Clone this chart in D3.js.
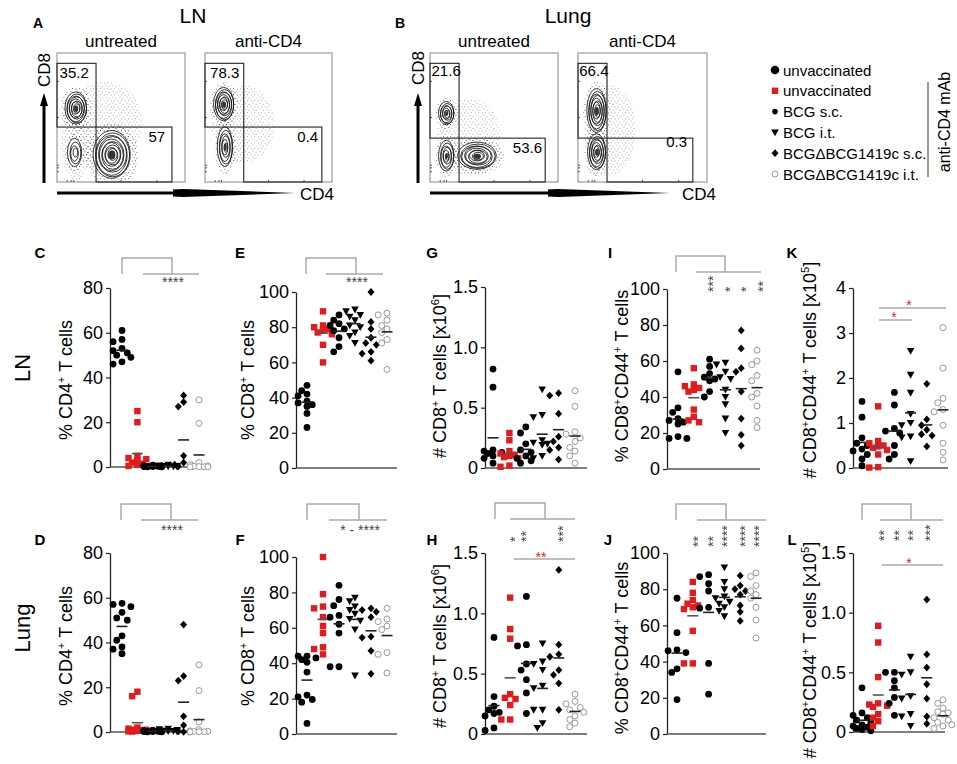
<!DOCTYPE html>
<html><head><meta charset="utf-8">
<script src="https://cdn.jsdelivr.net/npm/d3@7"></script>
<style>
body{margin:0;background:#fff}
text{font-family:"Liberation Sans",Arial,Helvetica,sans-serif}
</style>
</head><body>
<svg id="fig" width="957" height="764"></svg>
<script>
// ---------------- DATA ----------------
const groupNames = ["unvaccinated","unvaccinated anti-CD4","BCG s.c.","BCG i.t.","BCGΔBCG1419c s.c.","BCGΔBCG1419c i.t."];
const legendLabels = ["unvaccinated","unvaccinated","BCG s.c.","BCG i.t.","BCGΔBCG1419c s.c.","BCGΔBCG1419c i.t."];
const legendShapes = ["bigcircle","square","smallcircle","triangle","diamond","open"];
const groupShapes = ["circle","square","circle","triangle","diamond","open"];

// LN
const lnCD4 = [
  [61,57,56,53,52,51,50,49,47,46],
  [25,20,5,4,3.5,3,2,1.5,1,0.5,0.3],
  [0.8,0.6,0.5,0.4,0.3,0.2,0.2,0.1,0.1],
  [1,0.7,0.5,0.4,0.3,0.2,0.2,0.1],
  [32,29,27,5,2,1,0.5,0.3],
  [30,19.5,2,1,0.5,0.3,0.2,0.1,0.1,0.1]
];
const lnCD8 = [
  [47,44,42,41,38,37,36,35,31,23],
  [89,81,80,79,78,77,76,70,60],
  [87,84,82,81,79,78,74,69,66],
  [90,89,87,86,84,81,80,77,75,71],
  [100,83,79,74,71,70,66,65,61],
  [88,87,84,81,79,77,73,71,56]
];
const lnCD8count = [
  [0.82,0.67,0.15,0.14,0.13,0.12,0.1,0.08,0.04],
  [0.29,0.23,0.14,0.12,0.11,0.1,0.09,0.08,0.02,0.01],
  [0.34,0.29,0.2,0.15,0.13,0.1,0.08,0.06,0.04],
  [0.65,0.44,0.42,0.23,0.21,0.2,0.19,0.1,0.08],
  [0.62,0.6,0.45,0.26,0.22,0.17,0.15,0.07],
  [0.64,0.51,0.3,0.28,0.25,0.22,0.17,0.14,0.1,0.04]
];
const lnCD8CD44 = [
  [54,34,31.5,28,27,26,25,18,17,17],
  [56,47,46,45,44,43,33,29,27,26],
  [61,57,53,51,50,49,43,40],
  [59,58,54,51,50,44,40,36,28,20],
  [77,67,56,54,43,28,19,13],
  [66,60,58,52,49,42,40,35,27,23]
];
const lnCD8CD44count = [
  [1.48,1.13,0.67,0.55,0.5,0.42,0.38,0.3,0.2,0.05],
  [1.37,0.6,0.55,0.5,0.48,0.45,0.4,0.3,0.02,0.01],
  [1.68,1.4,0.88,0.82,0.78,0.5,0.3,0.2],
  [2.6,2.07,1.67,1.2,1.0,0.95,0.7,0.68,0.15],
  [1.87,1.08,0.95,0.85,0.75,0.72,0.48],
  [3.12,2.22,1.55,1.45,1.3,1.25,0.95,0.55,0.35,0.18]
];
// Lung
const lungCD4 = [
  [57.5,57,56,53.5,51,50,43,41,38,37,35],
  [18,16,2,1.5,1,1,0.8,0.5,0.3,0.2],
  [0.8,0.6,0.5,0.3,0.3,0.2,0.2,0.1,0.1],
  [1.5,1.2,0.9,0.6,0.5,0.4,0.3,0.2],
  [48,25,23,7,3,0.3,0.2,0.1],
  [30,18.5,4.5,1,0.5,0.3,0.2,0.1,0.1,0.1]
];
const lungCD8 = [
  [44,44,43,42,40.5,35,22,21,19.5,18,6],
  [100,79,72,71,66,61,57,49,48,45],
  [84,76,72.5,67,66,62,57,38,38],
  [77,75,72,70,68,65,64,59,33],
  [71,70,69,66,55,54.5,47,34],
  [71,65,63.5,61,59,46,45,34.5]
];
const lungCD8count = [
  [0.8,0.31,0.23,0.2,0.18,0.17,0.15,0.05,0.03],
  [1.13,0.87,0.79,0.33,0.3,0.29,0.24,0.12,0.12],
  [1.14,0.74,0.73,0.58,0.53,0.45,0.34,0.17],
  [0.75,0.6,0.58,0.53,0.4,0.38,0.2,0.2,0.09,0.05],
  [1.36,0.74,0.66,0.64,0.53,0.49,0.42,0.2],
  [0.33,0.27,0.25,0.22,0.2,0.18,0.15,0.12,0.09,0.06]
];
const lungCD8CD44 = [
  [75,56,46.5,46,45,36,34,19],
  [84,78,74,72,71,70,69,57,39,39],
  [88,87,83,79,70,69.5,39,22],
  [92,84,80,76,75,73,72,70,68,65],
  [87.5,82,80,79,77,71,67.5,62.5],
  [89,87,82,79,77,75,70,63,53]
];
const lungCD8CD44count = [
  [0.37,0.16,0.14,0.12,0.1,0.08,0.06,0.05,0.04,0.03,0.02,0.01],
  [0.89,0.75,0.46,0.24,0.23,0.22,0.21,0.15,0.12,0.09,0.05],
  [0.5,0.5,0.43,0.37,0.29,0.24,0.14],
  [0.63,0.5,0.48,0.3,0.28,0.15,0.13,0.05],
  [1.11,0.65,0.54,0.4,0.28,0.13,0.07],
  [0.27,0.24,0.2,0.17,0.16,0.15,0.12,0.1,0.08,0.06,0.05,0.03]
];

// tick values / labels
const ticks80 = [0,20,40,60,80];
const ticks100 = [0,20,40,60,80,100];
const ticks15 = [0,0.5,1.0,1.5];
const ticks15Labels = ["0","0.5","1.0","1.5"];
const ticks4 = [0,1,2,3,4];

// flow cytometry (box units 0..1, y upward)
const flowTitles = ["untreated","anti-CD4","untreated","anti-CD4"];
const flowPops = [
  [{x:0.15,y:0.57,rx:0.085,ry:0.125,n:9},{x:0.14,y:0.225,rx:0.055,ry:0.11,n:4,hollow:true},{x:0.43,y:0.21,rx:0.145,ry:0.185,n:11}],
  [{x:0.15,y:0.6,rx:0.08,ry:0.13,n:9},{x:0.16,y:0.27,rx:0.06,ry:0.155,n:6}],
  [{x:0.13,y:0.53,rx:0.06,ry:0.09,n:7},{x:0.13,y:0.2,rx:0.06,ry:0.12,n:6},{x:0.37,y:0.2,rx:0.15,ry:0.105,n:9}],
  [{x:0.147,y:0.55,rx:0.075,ry:0.17,n:9},{x:0.147,y:0.23,rx:0.07,ry:0.14,n:8}]
];
const flowNoise = [
  [{x:0.37,y:0.45,rx:0.3,ry:0.33},{x:0.15,y:0.35,rx:0.12,ry:0.35}],
  [{x:0.3,y:0.45,rx:0.25,ry:0.3}],
  [{x:0.3,y:0.35,rx:0.25,ry:0.3}],
  [{x:0.25,y:0.4,rx:0.2,ry:0.35}]
];
const flowGates = [
  [{x0:0,x1:0.305,y0:0.426,y1:0.92},{x0:0.305,x1:0.898,y0:0,y1:0.426}],
  [{x0:0,x1:0.305,y0:0.426,y1:0.92},{x0:0.305,x1:0.92,y0:0,y1:0.426}],
  [{x0:0,x1:0.227,y0:0.34,y1:0.92},{x0:0.227,x1:0.9,y0:0,y1:0.34}],
  [{x0:0,x1:0.225,y0:0.34,y1:0.92},{x0:0.225,x1:0.89,y0:0,y1:0.34}]
];
const flowLabels = [
  [{t:"35.2",x:0.02,y:0.806,a:"start"},{t:"57",x:0.845,y:0.31,a:"end"}],
  [{t:"78.3",x:0.04,y:0.806,a:"start"},{t:"0.4",x:0.89,y:0.31,a:"end"}],
  [{t:"21.6",x:0.012,y:0.82,a:"start"},{t:"53.6",x:0.875,y:0.225,a:"end"}],
  [{t:"66.4",x:0.01,y:0.82,a:"start"},{t:"0.3",x:0.845,y:0.27,a:"end"}]
];
const flowTicks = [0.08,0.11,0.13,0.5,0.78];

// ---------------- DRAW ----------------
const svg = d3.select("#fig");
const RED = "#e41a1c";
const defs = svg.append("defs");
const pat = defs.append("pattern").attr("id","speck").attr("patternUnits","userSpaceOnUse")
  .attr("width",7).attr("height",6);
[[0.5,0.8],[3.6,2.1],[5.8,4.6],[2.1,4.2]].forEach(([a,b])=>
  pat.append("rect").attr("x",a).attr("y",b).attr("width",0.9).attr("height",0.9).attr("fill","#333"));
const flat = defs.append("filter").attr("id","flat").attr("x","-50%").attr("y","-50%").attr("width","200%").attr("height","200%");
flat.append("feColorMatrix").attr("type","saturate").attr("values",0);

function txt(g, x, y, s, opts={}) {
  const t = g.append("text").attr("x",x).attr("y",y).text(s)
    .attr("font-size",opts.size||16).attr("text-anchor",opts.anchor||"start")
    .attr("fill",opts.fill||"#000");
  if (opts.bold) t.attr("font-weight","bold");
  return t;
}

// --- Flow panels ---
const flowBoxes = [[57,185,53,182],[205,332,53,182],[430,558,53,182],[578,707,53,182]];
flowBoxes.forEach((b,i)=>{
  const g = svg.append("g");
  const fx = d3.scaleLinear().domain([0,1]).range([b[0],b[1]]);
  const fy = d3.scaleLinear().domain([0,1]).range([b[3],b[2]]);
  const clipId = "clip"+i;
  defs.append("clipPath").attr("id",clipId).append("rect")
    .attr("x",b[0]).attr("y",b[2]).attr("width",b[1]-b[0]).attr("height",b[3]-b[2]);
  const inner = g.append("g").attr("clip-path",`url(#${clipId})`);
  flowNoise[i].forEach(n=>{
    inner.append("ellipse").attr("cx",fx(n.x)).attr("cy",fy(n.y))
      .attr("rx",fx(n.rx)-fx(0)).attr("ry",fy(0)-fy(n.ry))
      .attr("fill","url(#speck)").attr("opacity",0.5);
  });
  flowPops[i].forEach(p=>{
    const rx = fx(p.rx)-fx(0), ry = fy(0)-fy(p.ry);
    inner.append("ellipse").attr("cx",fx(p.x)).attr("cy",fy(p.y))
      .attr("rx",rx*1.4).attr("ry",ry*1.35).attr("fill","url(#speck)").attr("opacity",0.85);
    for (let j=0;j<p.n;j++){
      const f = 1 - j/p.n*0.92;
      inner.append("ellipse").attr("cx",fx(p.x)+(j%2?0.5:-0.4)).attr("cy",fy(p.y)+(j%3-1)*0.5)
        .attr("rx",rx*f).attr("ry",ry*f)
        .attr("fill", j===0 ? "#fff" : "none")
        .attr("stroke","#111").attr("stroke-width",0.85);
    }
    if (!p.hollow) {
      inner.append("ellipse").attr("cx",fx(p.x)).attr("cy",fy(p.y))
        .attr("rx",rx*0.18).attr("ry",ry*0.18).attr("fill","#333");
    }
  });
  g.append("rect").attr("x",b[0]).attr("y",b[2]).attr("width",b[1]-b[0]).attr("height",b[3]-b[2])
    .attr("fill","none").attr("stroke","#888").attr("stroke-width",1);
  flowTicks.forEach(t=>{
    g.append("line").attr("x1",fx(t)).attr("x2",fx(t)).attr("y1",b[3]).attr("y2",b[3]-2).attr("stroke","#555");
    g.append("line").attr("x1",b[0]).attr("x2",b[0]+2).attr("y1",fy(t)).attr("y2",fy(t)).attr("stroke","#555");
  });
  flowGates[i].forEach(q=>{
    g.append("rect").attr("x",fx(q.x0)).attr("y",fy(q.y1)).attr("width",fx(q.x1)-fx(q.x0))
      .attr("height",fy(q.y0)-fy(q.y1)).attr("fill","none").attr("stroke","#222").attr("stroke-width",1.1);
  });
  flowLabels[i].forEach(l=>{
    txt(g, fx(l.x), fy(l.y), l.t, {size:15, anchor:l.a});
  });
  txt(g, (b[0]+b[1])/2, 47, flowTitles[i], {size:17, anchor:"middle"});
});

txt(svg, 38, 28, "A", {size:14, bold:true, anchor:"middle"});
txt(svg, 400, 28, "B", {size:14, bold:true, anchor:"middle"});
txt(svg, 193, 23, "LN", {size:21, anchor:"middle"});
txt(svg, 568, 23, "Lung", {size:21, anchor:"middle"});
[[44,70],[418,68]].forEach(([x,cy])=>{
  svg.append("text").attr("transform",`translate(${x+6},${cy}) rotate(-90)`).attr("text-anchor","middle")
    .attr("font-size",17).text("CD8");
  svg.append("line").attr("x1",x).attr("x2",x).attr("y1",183).attr("y2",104).attr("stroke","#000").attr("stroke-width",3);
  svg.append("path").attr("d",`M${x-4},106 L${x},93 L${x+4},106 Z`).attr("fill","#000");
});
[[57,173,295,300],[430,548,670,682]].forEach(([x0,x1,x2,tx])=>{
  svg.append("line").attr("x1",x0).attr("x2",x1).attr("y1",193).attr("y2",193).attr("stroke","#000").attr("stroke-width",3);
  svg.append("path").attr("d",`M${x1},189.5 L${x1+10},189 L${x2},193 L${x1+10},197 L${x1},196.5 Z`).attr("fill","#000");
  txt(svg, tx, 200, "CD4", {size:17});
});

function marker(g, shape, x, y) {
  switch(shape){
    case "bigcircle": return g.append("circle").attr("cx",x).attr("cy",y).attr("r",4.3).attr("fill","#000");
    case "smallcircle": return g.append("circle").attr("cx",x).attr("cy",y).attr("r",2.8).attr("fill","#000");
    case "circle": return g.append("circle").attr("cx",x).attr("cy",y).attr("r",3.4).attr("fill","#000");
    case "square": return g.append("rect").attr("x",x-3.2).attr("y",y-3.2).attr("width",6.4).attr("height",6.4).attr("fill",RED);
    case "triangle": return g.append("path").attr("d",`M${x-3.8},${y-3} L${x+3.8},${y-3} L${x},${y+3.8} Z`).attr("fill","#000");
    case "diamond": return g.append("path").attr("d",`M${x},${y-3.9} L${x+3.5},${y} L${x},${y+3.9} L${x-3.5},${y} Z`).attr("fill","#000");
    case "open": return g.append("circle").attr("cx",x).attr("cy",y).attr("r",3).attr("fill","#fff").attr("stroke","#999").attr("stroke-width",1);
  }
}
const legG = svg.append("g");
const legY = d3.scalePoint().domain(d3.range(legendLabels.length)).range([70,174]);
legendLabels.forEach((l,i)=>{
  marker(legG, legendShapes[i], 775, legY(i));
  txt(legG, 783, legY(i)+5.5, l, {size:15});
});
legG.append("line").attr("x1",928).attr("x2",928).attr("y1",82).attr("y2",177).attr("stroke","#333").attr("stroke-width",1);
legG.append("text").attr("transform","translate(950,122) rotate(-90)").attr("text-anchor","middle")
  .attr("font-size",16).text("anti-CD4 mAb");

svg.append("text").attr("transform","translate(30,368) rotate(-90)").attr("text-anchor","middle").attr("font-size",22).text("LN");
svg.append("text").attr("transform","translate(30,628) rotate(-90)").attr("text-anchor","middle").attr("font-size",22).text("Lung");

const tCD4 = [["% CD4",0],["+",1],[" T cells",0]];
const tCD8 = [["% CD8",0],["+",1],[" T cells",0]];
const tCD8n = [["# CD8",0],["+",1],[" T cells [x10",0],["6",1],["]",0]];
const tCD44 = [["% CD8",0],["+",1],["CD44",0],["+",1],[" T cells",0]];
const tCD44n = [["# CD8",0],["+",1],["CD44",0],["+",1],[" T cells [x10",0],["5",1],["]",0]];

const panels = [
  {L:"C",data:lnCD4,max:80,ticks:ticks80,ax:110,xe:210,y0:467,yT:288,gx:[122,199],lx:40,ly:258,tx:72,ty:380,title:tCD4,
   br:{x1:122,x2:172,yu:258,yl:274,lx1:143,lx2:199},hs:{x:173,y:287,t:"****"}},
  {L:"E",data:lnCD8,max:100,ticks:ticks100,ax:296,xe:397,y0:468,yT:292,gx:[307,387],lx:240,ly:258,tx:254,ty:380,title:tCD8,
   br:{x1:306,x2:356,yu:258,yl:274,lx1:326,lx2:383},hs:{x:357,y:287,t:"****"}},
  {L:"G",data:lnCD8count,max:1.5,ticks:ticks15,labels:ticks15Labels,ax:485,xe:587,y0:468,yT:287,gx:[493,575],lx:432,ly:258,tx:446,ty:376,title:tCD8n},
  {L:"I",data:lnCD8CD44,max:100,ticks:ticks100,ax:667,xe:760,y0:469,yT:289,gx:[678,757],lx:610,ly:258,tx:628,ty:376,title:tCD44,
   br:{x1:676,x2:725,yu:256,yl:272,lx1:696,lx2:761},
   vs:{y:292,items:[[711,"***"],[728,"*"],[744,"*"],[761,"**"]]}},
  {L:"K",data:lnCD8CD44count,max:4,ticks:ticks4,ax:853,xe:948,y0:468,yT:288,gx:[862,943],lx:792,ly:258,tx:816,ty:370,title:tCD44n,
   red:[{x1:879,x2:912,y:320,sx:894,sy:322,t:"*"},{x1:879,x2:946,y:308,sx:909,sy:310,t:"*"}]},
  {L:"D",data:lungCD4,max:80,ticks:ticks80,ax:110,xe:210,y0:732,yT:553,gx:[122,199],lx:40,ly:545,tx:72,ty:646,title:tCD4,
   br:{x1:121,x2:171,yu:504,yl:520,lx1:141,lx2:198},hs:{x:172,y:535,t:"****"}},
  {L:"F",data:lungCD8,max:100,ticks:ticks100,ax:296,xe:397,y0:734,yT:557,gx:[307,387],lx:240,ly:545,tx:254,ty:646,title:tCD8,
   br:{x1:307,x2:359,yu:504,yl:520,lx1:329,lx2:387},hs:{x:360,y:535,t:"* - ****"}},
  {L:"H",data:lungCD8count,max:1.5,ticks:ticks15,labels:ticks15Labels,ax:485,xe:587,y0:734,yT:553,gx:[494,575],lx:432,ly:545,tx:446,ty:646,title:tCD8n,
   br:{x1:495,x2:545,yu:503,yl:519,lx1:510,lx2:575},
   vs:{y:542,items:[[513,"*"],[524,"**"],[561,"***"]]},
   red:[{x1:514,x2:575,y:559,sx:541,sy:562,t:"**"}]},
  {L:"J",data:lungCD8CD44,max:100,ticks:ticks100,ax:667,xe:766,y0:734,yT:553,gx:[677,756],lx:608,ly:545,tx:628,ty:648,title:tCD44,
   br:{x1:676,x2:726,yu:504,yl:520,lx1:697,lx2:766},
   vs:{y:547,items:[[696,"**"],[711,"**"],[725,"****"],[743,"****"],[757,"****"]]}},
  {L:"L",data:lungCD8CD44count,max:1.5,ticks:ticks15,labels:ticks15Labels,ax:853,xe:945,y0:732,yT:553,gx:[862,943],lx:792,ly:545,tx:816,ty:650,title:tCD44n,
   br:{x1:862,x2:911,yu:504,yl:520,lx1:880,lx2:943},
   vs:{y:541,items:[[882,"**"],[897,"**"],[911,"**"],[928,"***"]]},
   red:[{x1:882,x2:943,y:565,sx:909,sy:568,t:"*"}]}
];

function swarm(vals, y, cx, s) {
  const pts = vals.map(v=>({v, py:y(v)})).sort((a,b)=>a.py-b.py);
  const placed = [];
  const cands = [0,-0.8*s,0.8*s,-1.35*s,1.35*s];
  pts.forEach(p=>{
    let best=null, bestD=-1;
    for (const o of cands){
      let md = Infinity;
      placed.forEach(q=>{ const d=Math.hypot(q.px-(cx+o), q.py-p.py); if(d<md) md=d; });
      if (md >= s*0.95){ best=o; bestD=md; break; }
      if (md>bestD){ bestD=md; best=o; }
    }
    p.px = cx+best; placed.push(p);
  });
  return placed;
}

panels.forEach(p=>{
  const g = svg.append("g");
  const y = d3.scaleLinear().domain([0,p.max]).range([p.y0,p.yT]);
  const x = d3.scalePoint().domain(d3.range(groupNames.length)).range(p.gx);
  const ax = d3.axisLeft(y).tickValues(p.ticks).tickSize(4).tickSizeOuter(0).tickPadding(3)
    .tickFormat((d,i)=>p.labels ? p.labels[i] : d3.format("d")(d));
  const axg = g.append("g").attr("transform",`translate(${p.ax},0)`).call(ax);
  axg.select(".domain").attr("stroke","#222").attr("stroke-width",1.3);
  axg.selectAll(".tick line").attr("stroke","#222").attr("stroke-width",1.2);
  axg.selectAll(".tick text").attr("font-size",18).attr("fill","#000")
    .attr("font-family","'Liberation Sans',Arial,sans-serif");
  g.append("line").attr("x1",p.ax).attr("x2",p.xe).attr("y1",p.y0).attr("y2",p.y0)
    .attr("stroke","#555").attr("stroke-width",1.3);
  txt(g, p.lx, p.ly, p.L, {size:15, bold:true, anchor:"middle"});
  const t = g.append("text").attr("transform",`translate(${p.tx},${p.ty}) rotate(-90)`)
    .attr("text-anchor","middle").attr("font-size",18);
  let prevSup=false;
  p.title.forEach(([s,sup])=>{
    const ts = t.append("tspan").text(s);
    if (sup) ts.attr("font-size",11);
    ts.attr("dy", sup && !prevSup ? -7 : (!sup && prevSup ? 7 : 0));
    prevSup = !!sup;
  });
  p.data.forEach((vals,gi)=>{
    const pts = swarm(vals, y, x(gi), 6.6);
    pts.forEach(pt=> marker(g, groupShapes[gi], pt.px, pt.py));
    const m = d3.mean(vals);
    g.append("line").attr("x1",x(gi)-5.5).attr("x2",x(gi)+5.5).attr("y1",y(m)).attr("y2",y(m))
      .attr("stroke", gi===1 ? "#555" : "#222").attr("stroke-width",1.6);
  });
  if (p.br){
    const b=p.br;
    g.append("path").attr("d",`M${b.x1},${b.yl} V${b.yu} H${b.x2} V${b.yl}`)
      .attr("fill","none").attr("stroke","#aaa").attr("stroke-width",1.5);
    g.append("line").attr("x1",b.lx1).attr("x2",b.lx2).attr("y1",b.yl).attr("y2",b.yl)
      .attr("stroke","#aaa").attr("stroke-width",1.5);
  }
  if (p.hs) txt(g, p.hs.x, p.hs.y, p.hs.t, {size:14, anchor:"middle", fill:"#444"});
  if (p.vs) {
    const vg = g.append("g").attr("filter","url(#flat)");
    p.vs.items.forEach(([sx,s])=>{
      vg.append("text").attr("transform",`translate(${sx+6.5},${p.vs.y}) rotate(-90)`)
        .attr("font-size",14).attr("fill","#444").text(s);
    });
  }
  if (p.red) p.red.forEach(r=>{
    g.append("line").attr("x1",r.x1).attr("x2",r.x2).attr("y1",r.y).attr("y2",r.y)
      .attr("stroke","#aaa").attr("stroke-width",1.5);
    txt(g, r.sx, r.sy, r.t, {size:14, anchor:"middle", fill:RED});
  });
});
</script>
</body></html>
